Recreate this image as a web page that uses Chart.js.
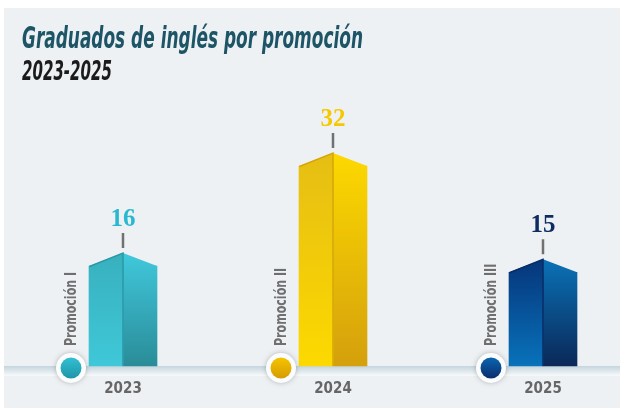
<!DOCTYPE html>
<html>
<head>
<meta charset="utf-8">
<script src="https://cdn.jsdelivr.net/npm/chart.js@4.4.0/dist/chart.umd.min.js"></script>
<style>
body { margin: 0; background: #fff; }
#wrap { position: relative; width: 620px; height: 408px; }
.narrow { font-family: "Liberation Sans Narrow", "DejaVu Sans Condensed", "Liberation Sans", sans-serif; }
#titulo { position: absolute; left: 22px; top: 19px; margin: 0; font-size: 31px; font-weight: bold; font-style: italic; color: #1d5566; white-space: nowrap; transform-origin: left top; }
#subtitulo { position: absolute; left: 22px; top: 56px; margin: 0; font-size: 26px; font-weight: bold; font-style: italic; color: #1b1b1b; white-space: nowrap; transform-origin: left top; }
</style>
</head>
<body>
<div id="wrap">
  <canvas id="grafico"></canvas>
  <div id="titulo" class="narrow">Graduados de inglés por promoción</div>
  <div id="subtitulo" class="narrow">2023-2025</div>
</div>
<script>
const years = ['2023', '2024', '2025'];
const promociones = ['Promoción I', 'Promoción II', 'Promoción III'];
const graduados = [16, 32, 15];

// colores por barra: [arriba, abajo]
const leftFace = [['#38b0be', '#3fc8d8'], ['#e5be14', '#fdd900'], ['#06357a', '#0872ba']];
const rightFace = [['#40c8dc', '#2a8c98'], ['#fdd900', '#d4a00c'], ['#0a72b6', '#0a2858']];
const edgeColor = ['#2b98a6', '#d6a60a', '#0a2c66'];
const valueColor = ['#2ab8d0', '#f6c800', '#0e2d5e'];
const markerColor = [['#33bed2', '#1d97a8'], ['#f4c300', '#d69d00'], ['#0b64ae', '#0a2f6e']];

const ROOF = 13;
const FONT = '"Liberation Sans Narrow", "DejaVu Sans Condensed", "Liberation Sans", sans-serif';

// ajustar ancho de los títulos
function fitWidth(id, w) {
  const el = document.getElementById(id);
  el.style.transform = 'scaleX(' + (w / el.getBoundingClientRect().width) + ')';
}
fitWidth('titulo', 341);
fitWidth('subtitulo', 90);

function faceGradient(context, palette) {
  const chart = context.chart;
  const { ctx, chartArea, scales } = chart;
  const i = context.dataIndex;
  if (!chartArea) return palette[i][0];
  const top = scales.y.getPixelForValue(graduados[i]) - ROOF;
  const g = ctx.createLinearGradient(0, top, 0, chartArea.bottom);
  g.addColorStop(0, palette[i][0]);
  g.addColorStop(1, palette[i][1]);
  return g;
}

const decor = {
  id: 'decor',
  beforeDraw(chart) {
    const ctx = chart.ctx;
    ctx.save();
    ctx.fillStyle = '#edf1f4';
    ctx.fillRect(4, 8, chart.width - 4, chart.height - 8);
    // franja base
    const b = chart.chartArea.bottom;
    const g = ctx.createLinearGradient(0, b, 0, b + 10);
    g.addColorStop(0, '#c4d5de');
    g.addColorStop(1, '#f8fafb');
    ctx.fillStyle = g;
    ctx.fillRect(4, b, chart.width - 4, 10);
    ctx.restore();
  },
  afterDatasetsDraw(chart) {
    const ctx = chart.ctx;
    const mL = chart.getDatasetMeta(0);
    const mR = chart.getDatasetMeta(1);
    const base = chart.chartArea.bottom;
    ctx.save();
    mL.data.forEach((el, i) => {
      const r = mR.data[i];
      const xl = el.x - el.width / 2;
      const xm = el.x + el.width / 2;
      const xr = r.x + r.width / 2;
      const y = el.y;
      const peak = y - ROOF;

      // techo
      ctx.fillStyle = el.options.backgroundColor;
      ctx.beginPath();
      ctx.moveTo(xl, y + 1);
      ctx.lineTo(xl, y);
      ctx.lineTo(xm, peak);
      ctx.lineTo(xm, y + 1);
      ctx.closePath();
      ctx.fill();
      ctx.fillStyle = r.options.backgroundColor;
      ctx.beginPath();
      ctx.moveTo(xm, y + 1);
      ctx.lineTo(xm, peak);
      ctx.lineTo(xr, y);
      ctx.lineTo(xr, y + 1);
      ctx.closePath();
      ctx.fill();

      // arista
      ctx.strokeStyle = edgeColor[i];
      ctx.lineWidth = 1.5;
      ctx.beginPath();
      ctx.moveTo(xl + 0.5, y + 0.5);
      ctx.lineTo(xm, peak);
      ctx.lineTo(xm, base);
      ctx.stroke();

      // marca y valor
      ctx.strokeStyle = '#717171';
      ctx.lineWidth = 2.5;
      ctx.beginPath();
      ctx.moveTo(xm, peak - 20);
      ctx.lineTo(xm, peak - 5);
      ctx.stroke();
      ctx.fillStyle = valueColor[i];
      ctx.font = 'bold 25px "Liberation Serif", serif';
      ctx.textAlign = 'center';
      ctx.textBaseline = 'alphabetic';
      ctx.fillText(graduados[i], xm, peak - 27);

      // etiqueta vertical
      const lx = xm - 51;
      ctx.save();
      ctx.translate(lx, 346);
      ctx.rotate(-Math.PI / 2);
      ctx.scale(0.82, 1);
      ctx.fillStyle = '#6f6f6f';
      ctx.font = 'bold 15px ' + FONT;
      ctx.textAlign = 'left';
      ctx.textBaseline = 'middle';
      ctx.fillText(promociones[i], 0, 0);
      ctx.restore();

      // marcador
      const cx = xm - 52, cy = base + 2;
      ctx.save();
      ctx.shadowColor = 'rgba(0,0,0,0.25)';
      ctx.shadowBlur = 5;
      ctx.fillStyle = '#fbfcfd';
      ctx.beginPath();
      ctx.arc(cx, cy, 15, 0, Math.PI * 2);
      ctx.fill();
      ctx.restore();
      const mg = ctx.createLinearGradient(0, cy - 10, 0, cy + 10);
      mg.addColorStop(0, markerColor[i][0]);
      mg.addColorStop(1, markerColor[i][1]);
      ctx.fillStyle = mg;
      ctx.beginPath();
      ctx.arc(cx, cy, 10.5, 0, Math.PI * 2);
      ctx.fill();
    });
    ctx.restore();
  }
};

new Chart(document.getElementById('grafico'), {
  type: 'bar',
  data: {
    labels: years,
    datasets: [
      {
        label: 'izquierda',
        data: graduados,
        backgroundColor: c => faceGradient(c, leftFace),
        barThickness: 34,
        clip: false
      },
      {
        label: 'derecha',
        data: graduados,
        backgroundColor: c => faceGradient(c, rightFace),
        barThickness: 34,
        clip: false
      }
    ]
  },
  options: {
    responsive: true,
    maintainAspectRatio: false,
    animation: false,
    layout: { padding: { left: 123, right: 77, top: 116, bottom: 0 } },
    plugins: {
      legend: { display: false },
      tooltip: { enabled: false }
    },
    scales: {
      x: {
        offset: false,
        grid: { display: false, drawTicks: false },
        border: { display: false },
        afterFit: axis => { axis.height = 42; },
        ticks: {
          color: '#666',
          padding: 14,
          font: { family: FONT, size: 15, weight: 'bold' }
        }
      },
      y: {
        display: false,
        min: 0,
        max: 40
      }
    }
  },
  plugins: [decor]
});
</script>
</body>
</html>
